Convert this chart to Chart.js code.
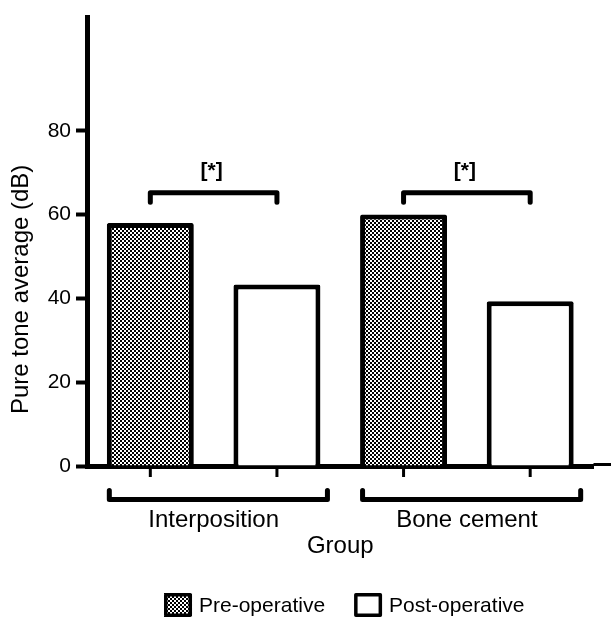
<!DOCTYPE html>
<html>
<head>
<meta charset="utf-8">
<script src="https://cdn.jsdelivr.net/npm/chart.js@4.4.1/dist/chart.umd.min.js"></script>
<style>
    html, body { margin: 0; padding: 0; background: #fff; }
</style>
</head>
<body>
<canvas id="myChart" width="611" height="621"></canvas>
<script>
let groups = ['Interposition', 'Bone cement'];
let seriesNames = ['Pre-operative', 'Post-operative'];
let preOp = [58, 60];
let postOp = [43.3, 39.3];
let yTicks = [0, 20, 40, 60, 80];
let yMax = 107;
let sigMarks = ['[*]', '[*]'];
let sigLevel = 65.2;
let yTitle = 'Pure tone average (dB)';
let xTitle = 'Group';

const FONT = '"Liberation Sans", Arial, Helvetica, sans-serif';

let canvas = document.getElementById('myChart');

function makePattern()
{
    let c = document.createElement('canvas');
    c.width = 4;
    c.height = 4;
    let g = c.getContext('2d');
    g.fillStyle = '#fff';
    g.fillRect(0, 0, 4, 4);
    g.fillStyle = '#000';
    g.fillRect(0, 0, 2, 2);
    g.fillRect(2, 2, 2, 2);
    return canvas.getContext('2d').createPattern(c, 'repeat');
}

let checker = makePattern();

function drawLegend(chart)
{
    let ctx = chart.ctx;
    let fills = [checker, '#fff'];
    let boxW = 28, boxH = 24, gap = 7, between = 29;
    ctx.font = '21px ' + FONT;
    let widths = seriesNames.map(n => boxW + gap + ctx.measureText(n).width);
    let total = widths[0] + widths[1] + between;
    let area = chart.chartArea;
    let x = (area.left + area.right) / 2 + 4 - total / 2;
    let top = 593;

    seriesNames.forEach((name, i) =>
    {
        ctx.fillStyle = fills[i];
        ctx.fillRect(x, top, boxW, boxH);
        ctx.lineWidth = 3.5;
        ctx.strokeStyle = '#000';
        ctx.strokeRect(x + 1.75, top + 1.75, boxW - 3.5, boxH - 3.5);
        ctx.fillStyle = '#000';
        ctx.textAlign = 'left';
        ctx.textBaseline = 'middle';
        ctx.fillText(name, x + boxW + gap, top + boxH / 2 + 1);
        x += widths[i] + between;
    });
}

const extras = {
    id: 'extras',
    afterDraw(chart)
    {
        let ctx = chart.ctx;
        let xs = chart.scales.x;
        let ys = chart.scales.y;
        let m0 = chart.getDatasetMeta(0);
        let m1 = chart.getDatasetMeta(1);
        let base = ys.getPixelForValue(0);

        ctx.save();
        ctx.strokeStyle = '#000';
        ctx.fillStyle = '#000';

        // thin run-out of the x axis past the plot
        ctx.lineWidth = 3;
        ctx.beginPath();
        ctx.moveTo(xs.right, base - 1.5);
        ctx.lineTo(chart.width, base - 1.5);
        ctx.stroke();

        // small ticks under each bar
        ctx.lineWidth = 3;
        [m0, m1].forEach(m => m.data.forEach(b =>
        {
            ctx.beginPath();
            ctx.moveTo(b.x, base + 2);
            ctx.lineTo(b.x, base + 11);
            ctx.stroke();
        }));

        ctx.lineCap = 'round';
        ctx.lineJoin = 'round';
        ctx.lineWidth = 5;

        groups.forEach((g, i) =>
        {
            let b0 = m0.data[i];
            let b1 = m1.data[i];

            // group bracket under the axis
            let l = b0.x - b0.width / 2 + 2.5;
            let r = b1.x + b1.width / 2 + 7;
            let yb = base + 33.5;
            let yt = base + 24.5;
            ctx.beginPath();
            ctx.moveTo(l, yt);
            ctx.lineTo(l, yb);
            ctx.lineTo(r, yb);
            ctx.lineTo(r, yt);
            ctx.stroke();

            // significance bracket
            let yl = ys.getPixelForValue(sigLevel);
            ctx.beginPath();
            ctx.moveTo(b0.x, yl + 9.5);
            ctx.lineTo(b0.x, yl);
            ctx.lineTo(b1.x, yl);
            ctx.lineTo(b1.x, yl + 9.5);
            ctx.stroke();

            ctx.font = 'bold 21px ' + FONT;
            ctx.textAlign = 'center';
            ctx.textBaseline = 'middle';
            ctx.fillText(sigMarks[i], (b0.x + b1.x) / 2 - 2, yl - 22);
        });

        // y title, centred on the labelled range
        ctx.save();
        let cy = (ys.getPixelForValue(yTicks[0]) + ys.getPixelForValue(yTicks[yTicks.length - 1])) / 2 - 9;
        ctx.translate(21, cy);
        ctx.rotate(-Math.PI / 2);
        ctx.font = '24px ' + FONT;
        ctx.textAlign = 'center';
        ctx.textBaseline = 'middle';
        ctx.fillText(yTitle, 0, 0);
        ctx.restore();

        drawLegend(chart);
        ctx.restore();
    }
};

new Chart(canvas,
{
    type: 'bar',
    data:
    {
        labels: groups,
        datasets: [
            {
                label: seriesNames[0],
                data: preOp,
                backgroundColor: checker,
                borderColor: '#000',
                borderWidth: 5,
                borderSkipped: 'bottom',
                borderRadius: 2,
                barPercentage: 0.687,
                categoryPercentage: 1
            },
            {
                label: seriesNames[1],
                data: postOp,
                backgroundColor: '#fff',
                borderColor: '#000',
                borderWidth: 5,
                borderSkipped: 'bottom',
                borderRadius: 2,
                barPercentage: 0.687,
                categoryPercentage: 1
            }
        ]
    },
    options:
    {
        responsive: false,
        animation: false,
        devicePixelRatio: 1,
        layout: { padding: { top: 13, right: 17.5, bottom: 56, left: 0 } },
        plugins: {
            legend: { display: false },
            tooltip: { enabled: false }
        },
        scales: {
            x: {
                z: 1,
                grid: { display: true, drawOnChartArea: false, drawTicks: false },
                border: { display: true, width: 5, color: '#000' },
                ticks: { color: '#000', font: { family: FONT, size: 24 }, padding: 40 },
                title: {
                    display: true,
                    text: xTitle,
                    color: '#000',
                    font: { family: FONT, size: 24 },
                    padding: { top: 4, bottom: 4 }
                },
                afterFit: function(s) { s.height = 99; }
            },
            y: {
                z: 1,
                min: 0,
                max: yMax,
                afterBuildTicks: function(s) { s.ticks = yTicks.map(v => ({ value: v })); },
                grid: { drawOnChartArea: false, drawTicks: true, tickLength: 11, tickWidth: 4, tickColor: '#000' },
                border: { display: true, width: 5, color: '#000' },
                ticks: { color: '#000', font: { family: FONT, size: 21 }, padding: 5 },
                afterFit: function(s) { s.width = 87; }
            }
        }
    },
    plugins: [extras]
});
</script>
</body>
</html>
